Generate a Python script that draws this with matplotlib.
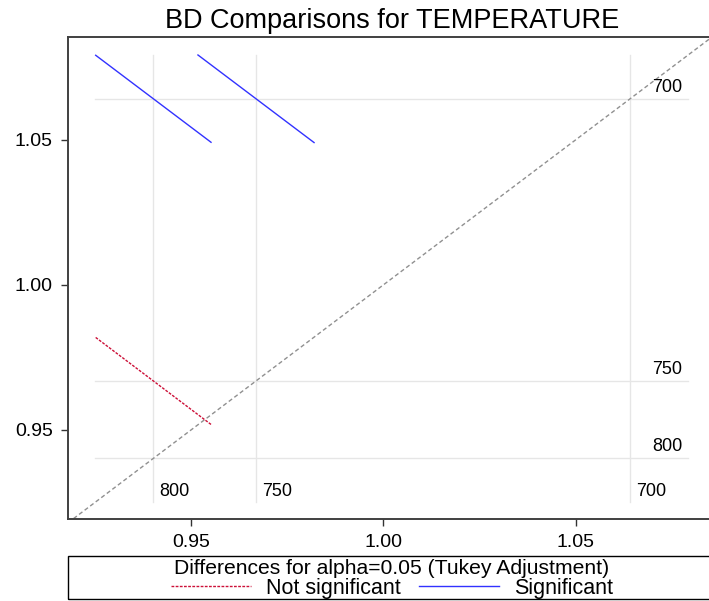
import matplotlib
matplotlib.use('Agg')
import matplotlib.pyplot as plt
from matplotlib.lines import Line2D
from matplotlib.patches import Rectangle

plt.rcParams['font.family'] = ['Liberation Sans', 'DejaVu Sans']

# LS-means of BD by temperature level
levels = ['700', '750', '800']
lsmeans = [1.0642, 0.9669, 0.9402]

# pairwise comparisons (x level, y level), half-length of segment, significance
pair_x = ['800', '750', '800']
pair_y = ['700', '700', '750']
half_len = [0.0150, 0.0151, 0.0150]
signif = [True, True, False]

xticks = [0.95, 1.00, 1.05]
yticks = [0.95, 1.00, 1.05]

W, H = 709, 601
fig = plt.figure(figsize=(W / 100, H / 100), dpi=100)
ax = fig.add_axes([68 / W, (H - 519) / H, (712 - 68) / W, (519 - 37) / H])

xlo, xhi = 0.918, 1.0855
ylo, yhi = 0.9193, 1.0855
ax.set_xlim(xlo, xhi)
ax.set_ylim(ylo, yhi)

mean = dict(zip(levels, lsmeans))
glo = min(lsmeans) - max(half_len)
ghi = max(lsmeans) + max(half_len)

# reference grid lines at each level mean
for lev, m in zip(levels, lsmeans):
    ax.plot([m, m], [glo, ghi], color='#e6e6e6', lw=1, zorder=1)
    ax.plot([glo, ghi], [m, m], color='#e6e6e6', lw=1, zorder=1)
    ax.annotate(lev, (m, glo), xytext=(6, 2), textcoords='offset pixels',
                ha='left', va='bottom', fontsize=13)
    ax.annotate(lev, (ghi, m), xytext=(-6, 3), textcoords='offset pixels',
                ha='right', va='bottom', fontsize=13)

# diagonal
ax.plot([xlo, yhi], [xlo, yhi], color='#909090', lw=1, ls=(0, (3, 2)), zorder=2)

for px, py, h, s in zip(pair_x, pair_y, half_len, signif):
    mx, my = mean[px], mean[py]
    if s:
        ax.plot([mx - h, mx + h], [my + h, my - h], color='#3232ff', lw=1, zorder=3)
    else:
        ax.plot([mx - h, mx + h], [my + h, my - h], color='#cc1038', lw=1,
                ls=(0, (2, 1)), zorder=3)

ax.set_xticks(xticks)
ax.set_yticks(yticks)
ax.set_xticklabels(['%.2f' % v for v in xticks])
ax.set_yticklabels(['%.2f' % v for v in yticks])
ax.tick_params(direction='out', length=5, width=1, labelsize=14, pad=6,
               color='#333333')
for side in ['left', 'bottom', 'top', 'right']:
    ax.spines[side].set_color('#404040')
    ax.spines[side].set_linewidth(1.4)

fig.text(392 / W, 1 - 21 / H, 'BD Comparisons for TEMPERATURE',
         ha='center', va='center', fontsize=19.5)

# legend box
fig.patches.append(Rectangle((68 / W, 1 - 599 / H), (716 - 68) / W, (599 - 556) / H,
                             transform=fig.transFigure, fill=False,
                             edgecolor='black', lw=1))
handles = [Line2D([], [], color='#cc1038', lw=1, ls=(0, (2, 1))),
           Line2D([], [], color='#3232ff', lw=1)]
fig.legend(handles, ['Not significant', 'Significant'], ncol=2,
           title='Differences for alpha=0.05 (Tukey Adjustment)',
           title_fontsize=15.2, fontsize=15.5, frameon=False,
           loc='center', bbox_to_anchor=(392 / W, 1 - 579 / H),
           handlelength=3.7, handletextpad=0.7, columnspacing=0.85,
           borderpad=0, labelspacing=0, borderaxespad=0)

fig.savefig('out.png', dpi=100)
